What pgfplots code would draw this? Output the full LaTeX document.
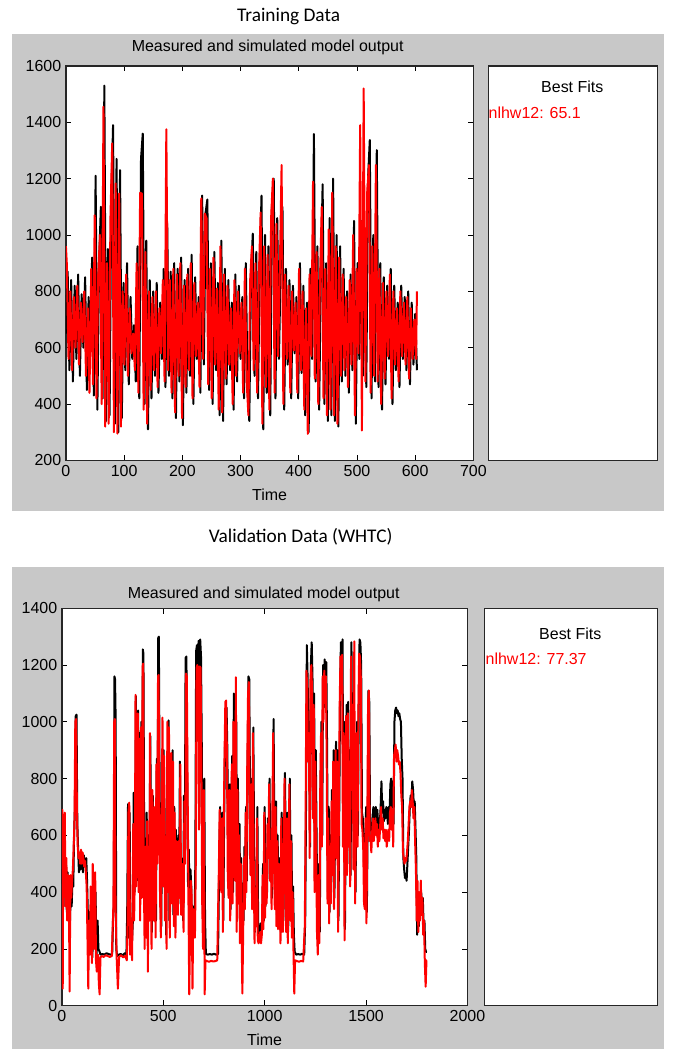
\documentclass[border=0pt]{standalone}
\usepackage{fontspec}
\setmainfont{Liberation Sans}
\newfontfamily\calib{Carlito}
\usepackage{pgfplots}
\pgfplotsset{compat=1.18}

\definecolor{figgray}{RGB}{200,200,200}
\definecolor{meas}{RGB}{0,0,0}
\definecolor{sim}{RGB}{255,0,0}

\pgfplotsset{
  matlab/.style={
    scale only axis,
    axis background/.style={fill=white},
    axis line style={black!85, line width=0.9pt},
    tick align=inside,
    tick pos=both,
    major tick length=4pt,
    every tick/.style={black, line width=0.6pt},
    tick label style={font=\fontsize{12}{14}\selectfont},
    /pgf/number format/assume math mode=true,
    /pgf/number format/1000 sep={},
    scaled ticks=false,
    clip=true,
  },
  meas/.style={color=meas, line width=1.5pt, line join=round, no markers},
  sim/.style={color=sim, line width=1.5pt, line join=round, no markers},
}

\begin{document}
\begin{tikzpicture}
\begin{scope}[x=0.75pt,y=0.75pt]
\useasboundingbox (0,0) rectangle (677,1050);
\fill[white] (0,0) rectangle (677,1050);
\fill[figgray] (12,538) rectangle (665,1016);
\fill[figgray] (12,0) rectangle (665,482);
\node[font=\calib\fontsize{14.5}{16}\selectfont] at (289,1033) {Training Data};
\node[font=\calib\fontsize{14.5}{16}\selectfont] at (301,513) {Validation Data (WHTC)};
\end{scope}

% ---------- training ----------
\begin{axis}[matlab,
  at={(49.5pt,441.75pt)}, anchor=south west,
  width=306pt, height=296.25pt,
  xmin=0, xmax=700, ymin=200, ymax=1600,
  xtick={0,100,...,700}, ytick={200,400,...,1600},
]
\addplot[meas] coordinates {
(0,650)(3,870)(6,520)(9,840)(12,480)(15,820)(18,560)(21,860)(24,500)(27,790)(30,600)
(33,850)(36,450)(39,780)(42,620)(45,920)(48,430)(51,1210)(54,380)(57,900)(60,1100)
(63,420)(66,1530)(69,340)(72,950)(75,360)(78,1135)(81,1390)(84,330)(87,1270)(90,300)
(93,1230)(96,350)(99,830)(102,520)(105,900)(108,470)(111,780)(114,560)(117,680)(120,480)
(123,960)(126,420)(129,1270)(132,1360)(135,400)(138,980)(141,310)(144,840)(147,420)(150,800)
(153,500)(156,830)(159,440)(162,760)(165,560)(168,880)(171,460)(174,1040)(177,500)(180,870)
(183,420)(186,900)(189,350)(192,880)(195,480)(198,920)(201,325)(204,840)(207,440)(210,880)
(213,500)(216,930)(219,400)(222,850)(225,560)(228,780)(231,440)(234,1140)(237,540)(240,1080)
(243,1126)(246,450)(249,900)(252,400)(255,940)(258,520)(261,830)(264,360)(267,980)(270,340)
(273,880)(276,470)(279,840)(282,520)(285,760)(288,380)(291,860)(294,480)(297,820)(300,560)
(303,780)(306,420)(309,900)(312,460)(315,340)(318,860)(321,1005)(324,500)(327,940)(330,420)
(333,880)(336,1140)(339,310)(342,1000)(345,440)(348,960)(351,360)(354,1100)(357,1200)(360,420)
(363,1060)(366,560)(369,900)(372,1100)(375,380)(378,880)(381,540)(384,840)(387,420)(390,820)
(393,580)(396,780)(399,420)(402,900)(405,510)(408,820)(411,360)(414,760)(417,300)(420,880)
(423,560)(426,1358)(429,480)(432,960)(435,380)(438,870)(441,1180)(444,400)(447,900)(450,340)
(453,1060)(456,360)(459,1200)(462,340)(465,1000)(468,320)(471,960)(474,480)(477,880)(480,500)
(483,800)(486,440)(489,860)(492,520)(495,1050)(498,330)(501,900)(504,560)(507,1050)(510,500)
(513,960)(516,460)(519,1200)(522,1337)(525,420)(528,1000)(531,480)(534,1301)(537,460)(540,900)
(543,380)(546,850)(549,470)(552,820)(555,560)(558,880)(561,400)(564,820)(567,520)(570,760)
(573,460)(576,820)(579,560)(582,780)(585,520)(588,800)(591,470)(594,760)(597,540)(600,720)(603,520)
};
\addplot[sim] coordinates {
(0,960)(1.5,900)(4.5,560)(7.5,800)(10.5,520)(13.5,780)(16.5,600)(19.5,820)(22.5,540)(25.5,760)(28.5,620)
(31.5,800)(34.5,500)(37.5,740)(40.5,440)(43.5,880)(46.5,470)(49.5,1070)(52.5,420)(55.5,860)(58.5,1000)
(61.5,400)(64.5,1455)(67.5,320)(70.5,900)(73.5,330)(76.5,1060)(79.5,1325)(82.5,300)(85.5,1183)(88.5,295)
(91.5,1147)(94.5,320)(97.5,800)(100.5,540)(103.5,860)(106.5,500)(109.5,740)(112.5,580)(115.5,650)(118.5,520)
(121.5,900)(124.5,440)(127.5,1150)(130.5,1147)(133.5,380)(136.5,940)(139.5,330)(142.5,800)(145.5,450)(148.5,780)
(151.5,520)(154.5,800)(157.5,460)(160.5,740)(163.5,580)(166.5,840)(169.5,480)(172.5,1375)(175.5,520)(178.5,840)
(181.5,440)(184.5,880)(187.5,370)(190.5,860)(193.5,500)(196.5,900)(199.5,350)(202.5,820)(205.5,460)(208.5,860)
(211.5,520)(214.5,900)(217.5,420)(220.5,830)(223.5,570)(226.5,760)(229.5,460)(232.5,1130)(235.5,560)(238.5,1076)
(241.5,1060)(244.5,470)(247.5,880)(250.5,420)(253.5,920)(256.5,540)(259.5,810)(262.5,380)(265.5,960)(268.5,370)
(271.5,860)(274.5,490)(277.5,820)(280.5,540)(283.5,740)(286.5,400)(289.5,840)(292.5,500)(295.5,800)(298.5,580)
(301.5,760)(304.5,440)(307.5,880)(310.5,480)(313.5,360)(316.5,840)(319.5,960)(322.5,520)(325.5,900)(328.5,440)
(331.5,860)(334.5,1080)(337.5,330)(340.5,960)(343.5,460)(346.5,930)(349.5,380)(352.5,1060)(355.5,1200)(358.5,440)
(361.5,1040)(364.5,570)(367.5,880)(370.5,1248)(373.5,400)(376.5,860)(379.5,560)(382.5,820)(385.5,440)(388.5,800)
(391.5,590)(394.5,760)(397.5,440)(400.5,880)(403.5,520)(406.5,800)(409.5,380)(412.5,740)(415.5,294)(418.5,860)
(421.5,570)(424.5,1189)(427.5,490)(430.5,940)(433.5,400)(436.5,850)(439.5,1100)(442.5,420)(445.5,880)(448.5,360)
(451.5,1020)(454.5,380)(457.5,1150)(460.5,360)(463.5,960)(466.5,330)(469.5,920)(472.5,500)(475.5,860)(478.5,520)
(481.5,780)(484.5,460)(487.5,840)(490.5,540)(493.5,1000)(496.5,360)(499.5,880)(502.5,580)(505.5,1390)(508.5,306)
(511.5,1520)(514.5,480)(517.5,1150)(520.5,1248)(523.5,440)(526.5,960)(529.5,500)(532.5,1248)(535.5,480)(538.5,880)
(541.5,400)(544.5,830)(547.5,490)(550.5,800)(553.5,570)(556.5,860)(559.5,420)(562.5,800)(565.5,540)(568.5,740)
(571.5,480)(574.5,800)(577.5,570)(580.5,760)(583.5,540)(586.5,780)(589.5,490)(592.5,740)(595.5,560)(598.5,700)(601.5,560)(603,800)
};
\end{axis}

% ---------- validation ----------
\begin{axis}[matlab,
  at={(46.5pt,32.25pt)}, anchor=south west,
  width=304.5pt, height=298.5pt,
  xmin=0, xmax=2000, ymin=0, ymax=1400,
  xtick={0,500,...,2000}, ytick={0,200,...,1400},
]
\addplot[meas] coordinates {
(0,430)(4,480)(8,350)(12,470)(16,390)(20,500)(24,330)(28,470)(32,380)(36,450)(40,300)(44,430)(48,350)(52,440)(56,420)(60,600)(64,700)(68,1020)(72,1025)(76,640)(80,550)(84,470)(88,520)(92,480)(96,540)(100,520)(104,470)(108,530)(112,500)(116,490)(120,520)(124,440)(128,320)(132,250)(136,330)(140,200)(146,380)(150,170)(156,320)(160,250)(166,400)(170,170)(176,300)(180,200)(186,190)(190,180)(200,182)(210,180)(220,185)(230,182)(240,180)(248,182)
(252,300)(256,350)(259,1160)(262,1150)(265,1010)(268,200)(272,175)(280,180)(290,182)(300,178)(310,185)(318,180)(322,330)(326,710)(330,240)(334,680)(338,190)(344,200)(350,300)(354,750)(358,400)(362,560)(365,1090)(368,440)(372,870)(376,1040)(380,440)(384,960)(388,420)(392,1000)(396,450)(399,1255)(402,1240)(406,500)(410,350)(414,270)(418,680)(422,460)(426,600)(430,320)(436,950)(440,500)(444,260)(448,740)(452,560)(456,380)(460,660)(464,300)(468,870)(472,540)(475,1295)(478,1300)(482,760)(486,420)(490,280)(494,680)(498,480)
(502,900)(506,440)(510,600)(514,250)(518,840)(522,460)(526,1005)(530,300)(534,620)(538,880)(542,400)(546,900)(550,320)(554,700)(558,280)(562,620)(566,450)(570,380)(574,600)(578,420)(582,860)(586,360)(590,520)(594,440)(598,300)(602,740)(606,520)(610,1225)(614,1230)(618,800)(622,420)(626,550)(630,300)(634,480)(638,420)(642,200)(646,350)(650,300)(654,280)(658,500)(662,1250)(666,1270)(670,1200)(674,1285)(678,700)(682,1290)(686,1230)(690,900)(694,400)(698,230)(702,800)(706,300)(710,182)(720,180)(730,182)(740,180)(750,183)(760,180)(770,182)
(776,500)(780,700)(784,560)(788,420)(792,680)(796,300)(800,640)(804,900)(808,1040)(812,1050)(816,900)(820,500)(824,420)(828,780)(832,340)(836,620)(840,880)(844,400)(848,1100)(852,720)(856,480)(860,1000)(864,300)(868,800)(872,400)(876,640)(880,260)(884,520)(888,320)(892,430)(896,300)(900,560)(904,380)(908,700)(912,440)(916,860)(920,1160)(924,1150)(928,700)(932,500)(936,800)(940,380)(944,980)(948,560)(952,260)(956,420)(960,320)(964,700)(968,270)(972,250)(976,260)(980,290)(984,250)(988,280)(992,500)(996,300)
(1000,700)(1004,350)(1008,520)(1012,400)(1016,660)(1020,560)(1024,800)(1028,470)(1032,600)(1036,380)(1040,700)(1044,1010)(1048,560)(1052,380)(1056,720)(1060,320)(1064,600)(1068,300)(1072,520)(1076,420)(1080,260)(1084,680)(1088,420)(1092,300)(1096,480)(1100,820)(1104,560)(1108,300)(1112,680)(1116,260)(1120,540)(1124,800)(1128,330)(1132,600)(1136,280)(1140,420)(1144,250)(1148,190)(1155,180)(1165,182)(1175,180)(1185,183)(1195,180)
(1200,300)(1204,700)(1208,1270)(1212,1150)(1216,900)(1220,1000)(1224,560)(1228,1200)(1232,1280)(1236,1150)(1240,700)(1244,1100)(1248,450)(1252,900)(1256,600)(1260,300)(1264,230)(1268,500)(1272,260)(1276,800)(1280,1000)(1284,600)(1288,1200)(1292,1050)(1296,1220)(1300,1150)(1304,1210)(1308,900)(1312,400)(1316,700)(1320,330)(1324,600)(1328,400)(1332,760)(1336,500)(1340,900)(1344,380)(1348,700)(1352,930)(1356,560)(1360,900)(1364,300)(1368,700)(1372,1100)(1376,1280)(1380,1150)(1384,1290)(1388,600)(1392,1000)(1396,270)
(1400,700)(1404,1060)(1408,500)(1412,1070)(1416,600)(1420,900)(1424,460)(1428,1280)(1432,800)(1436,1100)(1440,520)(1444,950)(1448,400)(1452,700)(1456,1000)(1460,600)(1464,1060)(1468,1290)(1472,1280)(1476,1200)(1480,680)(1484,660)(1488,600)(1492,400)(1496,380)(1500,700)(1504,330)(1508,640)(1512,1110)(1516,1070)(1520,620)(1524,640)(1528,580)(1532,650)(1536,700)(1540,620)(1544,660)(1548,700)(1552,640)(1556,690)(1560,600)(1564,660)(1568,640)(1572,700)(1576,790)(1580,680)(1584,720)(1588,650)(1592,690)(1596,660)
(1600,700)(1604,680)(1608,640)(1612,700)(1616,670)(1620,780)(1624,800)(1628,700)(1632,790)(1636,640)(1640,1000)(1644,1040)(1648,1050)(1652,1030)(1656,1040)(1660,1020)(1664,1030)(1668,1010)(1672,1000)(1676,870)(1680,800)(1684,520)(1688,480)(1692,450)(1696,460)(1700,440)(1704,500)(1708,560)(1712,620)(1716,700)(1720,740)(1724,720)(1728,790)(1732,760)(1736,700)(1740,720)(1744,620)(1748,520)(1752,250)(1756,400)(1760,280)(1764,380)(1768,320)(1772,400)(1776,340)(1780,380)(1784,280)(1788,300)(1792,200)(1796,190)(1800,190)
};
\addplot[sim] coordinates {
(0,600)(2,690)(4,60)(6,480)(10,420)(14,680)(18,350)(22,520)(26,300)(30,460)(34,420)(38,50)(42,460)(46,380)(50,440)(54,480)(58,560)(62,650)(66,1000)(70,1010)(74,680)(78,560)(82,520)(86,540)(90,500)(94,550)(98,500)(102,540)(106,520)(110,490)(114,510)(118,470)(122,420)(126,240)(130,60)(134,300)(138,180)(142,420)(148,150)(152,500)(158,200)(164,470)(168,160)(172,120)(178,180)(182,80)(186,40)(190,170)(196,175)(206,172)(216,178)(226,175)(236,172)(246,175)
(250,260)(254,360)(258,1000)(261,1010)(264,400)(266,300)(270,170)(276,60)(282,172)(292,178)(302,170)(312,176)(320,160)(324,300)(328,680)(332,715)(336,180)(340,300)(346,160)(352,640)(356,300)(360,480)(363,1095)(366,420)(370,840)(374,1030)(378,400)(382,940)(386,300)(390,980)(394,380)(398,1195)(401,1205)(404,460)(408,200)(412,560)(416,240)(420,650)(424,120)(428,560)(432,300)(434,960)(438,520)(442,200)(446,760)(450,540)(454,300)(458,700)(462,240)(466,850)(470,500)(474,1160)(477,1165)(480,700)(484,380)(488,240)(492,640)(496,1015)
(500,420)(504,880)(508,300)(512,560)(516,200)(520,1000)(524,400)(528,980)(532,240)(536,580)(540,890)(544,360)(548,860)(552,280)(556,680)(560,240)(564,580)(568,400)(572,320)(576,580)(580,380)(584,850)(588,320)(592,500)(596,400)(600,260)(604,720)(608,500)(612,1170)(616,1160)(620,760)(624,380)(628,40)(632,260)(636,440)(640,380)(644,60)(648,340)(652,260)(656,240)(660,480)(664,1190)(668,1200)(672,1180)(676,620)(680,1195)(684,1190)(688,840)(692,360)(696,200)(700,760)(704,40)(708,160)(716,157)(726,155)(736,158)(746,156)(756,157)(766,160)
(774,480)(778,690)(782,520)(786,400)(790,660)(794,260)(798,620)(802,880)(806,1070)(810,1075)(814,880)(818,460)(822,380)(826,760)(830,300)(834,600)(838,850)(842,360)(846,1000)(850,700)(854,440)(858,1157)(862,260)(866,760)(870,360)(874,600)(878,220)(882,500)(886,280)(890,43)(894,260)(898,520)(902,340)(906,680)(910,400)(914,840)(918,1100)(922,1140)(926,660)(930,460)(934,780)(938,340)(942,960)(946,520)(950,220)(954,380)(958,280)(962,660)(966,230)(970,220)(974,230)(978,260)(982,220)(986,250)(990,460)(994,270)(998,680)
(1002,310)(1006,500)(1010,360)(1014,640)(1018,520)(1022,780)(1026,440)(1030,580)(1034,340)(1038,680)(1042,960)(1046,520)(1050,340)(1054,700)(1058,280)(1062,580)(1066,270)(1070,500)(1074,380)(1078,220)(1082,660)(1086,380)(1090,260)(1094,460)(1098,800)(1102,520)(1106,260)(1110,660)(1114,220)(1118,520)(1122,780)(1126,300)(1130,580)(1134,240)(1138,400)(1142,200)(1146,43)(1150,160)(1160,157)(1170,155)(1180,158)(1190,156)
(1198,280)(1202,680)(1206,1180)(1210,1120)(1214,860)(1218,960)(1222,520)(1226,1150)(1230,1200)(1234,1100)(1238,660)(1242,1060)(1246,400)(1250,860)(1254,560)(1258,260)(1262,180)(1266,460)(1270,220)(1274,760)(1278,960)(1282,560)(1286,1160)(1290,1000)(1294,1180)(1298,1100)(1302,1160)(1306,860)(1310,360)(1314,660)(1318,290)(1322,560)(1326,360)(1330,720)(1334,460)(1338,860)(1342,340)(1346,660)(1350,900)(1354,520)(1358,860)(1362,260)(1366,660)(1370,1060)(1374,1230)(1378,1100)(1382,1236)(1386,560)(1390,960)(1394,230)(1398,660)
(1402,1020)(1406,460)(1410,1030)(1414,560)(1418,860)(1422,420)(1426,1230)(1430,760)(1434,1060)(1438,480)(1442,1283)(1446,360)(1450,660)(1454,960)(1458,560)(1462,1020)(1466,1240)(1470,1230)(1474,1160)(1478,640)(1482,620)(1486,560)(1490,360)(1494,340)(1498,660)(1502,290)(1506,600)(1510,1070)(1514,1110)(1518,580)(1522,600)(1526,540)(1530,610)(1534,660)(1538,580)(1542,620)(1546,660)(1550,600)(1554,640)(1558,560)(1562,620)(1566,580)(1570,640)(1574,700)(1578,620)(1582,660)(1586,590)(1590,620)(1594,580)(1598,620)
(1602,560)(1606,590)(1610,620)(1614,580)(1618,680)(1622,700)(1626,620)(1630,690)(1634,560)(1638,880)(1642,900)(1646,920)(1650,860)(1654,900)(1658,880)(1662,850)(1666,860)(1670,820)(1674,740)(1678,700)(1682,540)(1686,520)(1690,500)(1694,520)(1698,510)(1702,540)(1706,580)(1710,640)(1714,700)(1718,720)(1722,700)(1726,760)(1730,720)(1734,660)(1738,700)(1742,580)(1746,480)(1750,300)(1754,440)(1758,260)(1762,400)(1766,300)(1770,441)(1774,320)(1778,380)(1782,250)(1786,300)(1790,150)(1794,67)(1798,160)(1800,160)
};
\end{axis}

\begin{scope}[x=0.75pt,y=0.75pt]
\node[font=\fontsize{12}{14}\selectfont] at (268,1003) {Measured and simulated model output};
\node[font=\fontsize{12}{14}\selectfont] at (270,555) {Time};
\draw[fill=white, draw=black!85, line width=1pt] (489,589) rectangle (658,984);
\node[font=\fontsize{12}{14}\selectfont] at (573,963) {Best Fits};
\node[font=\fontsize{12}{14}\selectfont, text=sim, anchor=west, inner sep=0pt] at (489,937) {nlhw12: 65.1};

\node[font=\fontsize{12}{14}\selectfont] at (264,455) {Measured and simulated model output};
\node[font=\fontsize{12}{14}\selectfont] at (265,9) {Time};
\draw[fill=white, draw=black!85, line width=1pt] (485,43) rectangle (658,441);
\node[font=\fontsize{12}{14}\selectfont] at (571,415) {Best Fits};
\node[font=\fontsize{12}{14}\selectfont, text=sim, anchor=west, inner sep=0pt] at (486,390) {nlhw12: 77.37};
\end{scope}
\end{tikzpicture}
\end{document}
